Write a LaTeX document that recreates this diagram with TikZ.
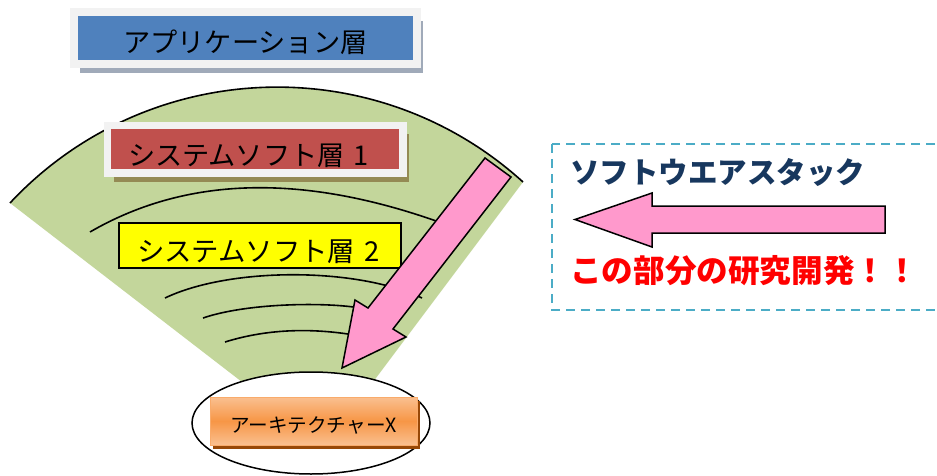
\documentclass[tikz,border=0pt]{standalone}
\usepackage{fontspec}
\usepackage{xcolor}
\usepackage{tikz}
\usetikzlibrary{shapes.geometric, shadows}
\newfontfamily\jpfont{Noto Sans CJK JP}
\definecolor{appblue}{RGB}{79, 129, 189}
\definecolor{sysred}{RGB}{192, 80, 77}
\definecolor{sysyellow}{RGB}{255, 255, 0}
\definecolor{fangreen}{RGB}{195, 214, 155}
\definecolor{arrowpink}{RGB}{255, 153, 204}
\definecolor{archorange}{RGB}{247, 150, 70}
\definecolor{archlight}{RGB}{250, 192, 144}
\definecolor{archshadow}{RGB}{152, 72, 7}
\definecolor{framegrey}{RGB}{242, 242, 242}
\definecolor{appshadow}{RGB}{160, 170, 185}
\definecolor{sysshadow}{RGB}{148, 138, 84}
\definecolor{stackcyan}{RGB}{75, 172, 198}
\definecolor{stacknavy}{RGB}{23, 55, 94}

\begin{document}
\begin{tikzpicture}[x=1pt, y=-1pt,
    layerline/.style={black, line width=1.6pt},
    framebox/.style={draw=framegrey, line width=7.5pt, inner sep=0pt, text depth=3pt,
        font=\jpfont\fontsize{27.2pt}{30pt}\selectfont},
    blockarrow/.style={draw=black, fill=arrowpink, line width=1.5pt, line join=miter},
    stacktext/.style={inner sep=0pt, anchor=base west}]
    \useasboundingbox (0,0) rectangle (937,476);

    % Fan of software layers
    \fill[fangreen] (10,203) .. controls (146.5,57.1) and (374.9,47.7) .. (523,182) -- (325,446) -- cycle;
    \draw[layerline] (10,203) .. controls (146.5,57.1) and (374.9,47.7) .. (523,182);
    \draw[layerline] (90,232) .. controls (190,174) and (310,174) .. (450,226);
    \draw[layerline] (165,298) .. controls (230,267) and (356,267) .. (422,298);
    \draw[layerline] (203,318) .. controls (250,302) and (334,302) .. (365,309);
    \draw[layerline] (225,342) .. controls (270,328) and (316,328) .. (360,336);

    % Application layer
    \node[framebox, fill=appblue, minimum width=343.25pt, minimum height=52pt, text height=32pt,
        drop shadow={shadow xshift=6pt, shadow yshift=-9pt, fill=appshadow, opacity=1}]
        (app) at (245.4,38) {アプリケーション層};

    % System software layers
    \node[framebox, fill=sysred, minimum height=47.5pt, text height=35pt,
        text width=254.5pt, align=left, inner xsep=20.5pt,
        drop shadow={shadow xshift=6pt, shadow yshift=-9pt, fill=sysshadow, opacity=1}]
        (sys1) at (255.25,149.25) {システムソフト層 1};
    \node[draw=black, line width=1.5pt, fill=sysyellow, minimum height=45pt,
        text width=246pt, align=left, inner xsep=18pt, inner ysep=0pt,
        text height=35pt, text depth=3pt, font=\jpfont\fontsize{27.4pt}{30pt}\selectfont]
        (sys2) at (260,245.5) {システムソフト層 2};

    % The core
    \node[draw=black, ellipse, fill=white, line width=1.5pt, minimum width=238pt, minimum height=102pt]
        (core) at (311,423) {};
    \node[draw=archorange!80!white, line width=1pt, top color=archlight, bottom color=archlight,
        middle color=archorange, minimum width=207pt, minimum height=48pt, inner sep=0pt,
        text height=25pt, text depth=2pt, font=\jpfont\fontsize{19.6pt}{22pt}\selectfont,
        drop shadow={shadow xshift=3pt, shadow yshift=-4pt, fill=archshadow, opacity=1}]
        (arch) at (313.5,421) {アーキテクチャーX};

    % Downward arrow
    \draw[blockarrow] (485,158) -- (368,308) -- (355,300) -- (342,368) -- (406,337) -- (393,329) -- (511,177) -- cycle;

    % Software stack note
    \draw[stackcyan, line width=2pt, dash pattern=on 9pt off 6pt] (552,144) rectangle (990,310);
    \node[stacktext, text=stacknavy, font=\jpfont\bfseries\fontsize{29.5pt}{34pt}\selectfont]
        (stack) at (570,183) {ソフトウエアスタック};
    \draw[blockarrow] (885,206) -- (652,206) -- (652,193) -- (575,219.5) -- (652,247) -- (652,233) -- (885,233) -- cycle;
    \node[stacktext, text=red, font=\jpfont\bfseries\fontsize{31.6pt}{34pt}\selectfont]
        (research) at (570,282) {この部分の研究開発！！};
\end{tikzpicture}
\end{document}
